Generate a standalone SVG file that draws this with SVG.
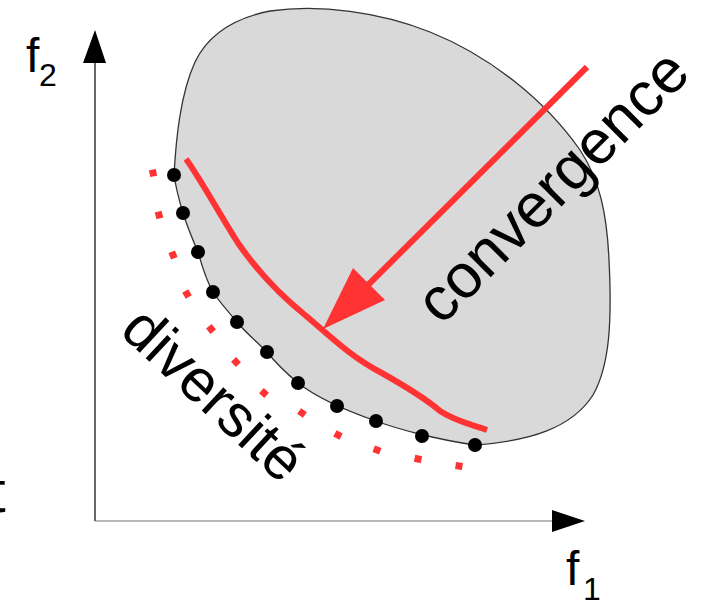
<svg xmlns="http://www.w3.org/2000/svg" width="706" height="600" viewBox="0 0 706 600">
<style>
text{font-family:"Liberation Sans",Arial,sans-serif;fill:#000}
.dot{fill:#000}
.sq{fill:#ff3333}
.red{stroke:#ff3333;stroke-width:6;fill:none;stroke-linejoin:round}
</style>
<rect width="706" height="600" fill="#fff"/>
<g id="region">
<path d="M174,175 C176,140 180,95 195,62 C208,35 235,18 270,11 C320,4 380,12 430,32 C490,56 545,100 580,150 C600,180 607,215 609,260 C612,320 610,365 593,395 C572,428 530,441 475,445 C440,440 400,430 376,421 C350,412 320,400 298,383 C285,372 275,362 267,352 C255,340 245,332 237,322 C225,308 218,300 213,292 C205,278 202,265 198,252 C192,238 187,226 183,213 C179,200 176,188 174,175 Z" fill="#d9d9d9" stroke="#333" stroke-width="1.3"/>
</g>
<g id="axes">
<line x1="95" y1="521" x2="95" y2="60" stroke="#000" stroke-width="1.2"/>
<polygon points="95,30 83,63 106,63" fill="#000"/>
<line x1="95" y1="521" x2="555" y2="521" stroke="#777" stroke-width="1.2"/>
<polygon points="585,521 552,510 552,532" fill="#000"/>
</g>
<g id="front-points">
<circle class="dot" cx="174" cy="175" r="7"/>
<circle class="dot" cx="183" cy="213" r="7"/>
<circle class="dot" cx="198" cy="252" r="7"/>
<circle class="dot" cx="213" cy="292" r="7"/>
<circle class="dot" cx="237" cy="322" r="7"/>
<circle class="dot" cx="267" cy="352" r="7"/>
<circle class="dot" cx="298" cy="383" r="7"/>
<circle class="dot" cx="337" cy="406" r="7"/>
<circle class="dot" cx="376" cy="421" r="7"/>
<circle class="dot" cx="422" cy="436" r="7"/>
<circle class="dot" cx="475" cy="445" r="7"/>
</g>
<g id="diversity-squares">
<rect class="sq" x="-3.5" y="-3.5" width="7" height="7" transform="translate(153,173) rotate(80)"/>
<rect class="sq" x="-3.5" y="-3.5" width="7" height="7" transform="translate(159,215) rotate(75)"/>
<rect class="sq" x="-3.5" y="-3.5" width="7" height="7" transform="translate(173,255) rotate(68)"/>
<rect class="sq" x="-3.5" y="-3.5" width="7" height="7" transform="translate(187,294) rotate(60)"/>
<rect class="sq" x="-3.5" y="-3.5" width="7" height="7" transform="translate(211,329) rotate(52)"/>
<rect class="sq" x="-3.5" y="-3.5" width="7" height="7" transform="translate(236,362) rotate(47)"/>
<rect class="sq" x="-3.5" y="-3.5" width="7" height="7" transform="translate(264,393) rotate(42)"/>
<rect class="sq" x="-3.5" y="-3.5" width="7" height="7" transform="translate(302,413) rotate(35)"/>
<rect class="sq" x="-3.5" y="-3.5" width="7" height="7" transform="translate(338,435) rotate(28)"/>
<rect class="sq" x="-3.5" y="-3.5" width="7" height="7" transform="translate(377,450) rotate(20)"/>
<rect class="sq" x="-3.5" y="-3.5" width="7" height="7" transform="translate(418,459) rotate(12)"/>
<rect class="sq" x="-3.5" y="-3.5" width="7" height="7" transform="translate(459,466) rotate(8)"/>
</g>
<g id="connectors">
<path class="red" d="M186,159 C200,178 220,215 238,243 C258,272 280,295 305,315 C330,336 350,356 380,372 C405,386 425,398 440,411 C455,421 470,424 487,430"/>
<line class="red" x1="587" y1="67" x2="366" y2="287"/>
<polygon points="323,329 353,268 385,300" fill="#ff3333"/>
</g>
<g id="labels">
<text x="26" y="72" font-size="48">f</text>
<text x="39" y="86" font-size="32">2</text>
<text x="566" y="585" font-size="48">f</text>
<text x="583" y="600" font-size="32">1</text>
<text x="567" y="201" font-size="62" text-anchor="middle" transform="rotate(-45 567 201)">convergence</text>
<text x="200" y="409" font-size="60" text-anchor="middle" transform="rotate(43 200 409)">diversité</text>
<text x="-11" y="512" font-size="60">t</text>
</g>
</svg>
